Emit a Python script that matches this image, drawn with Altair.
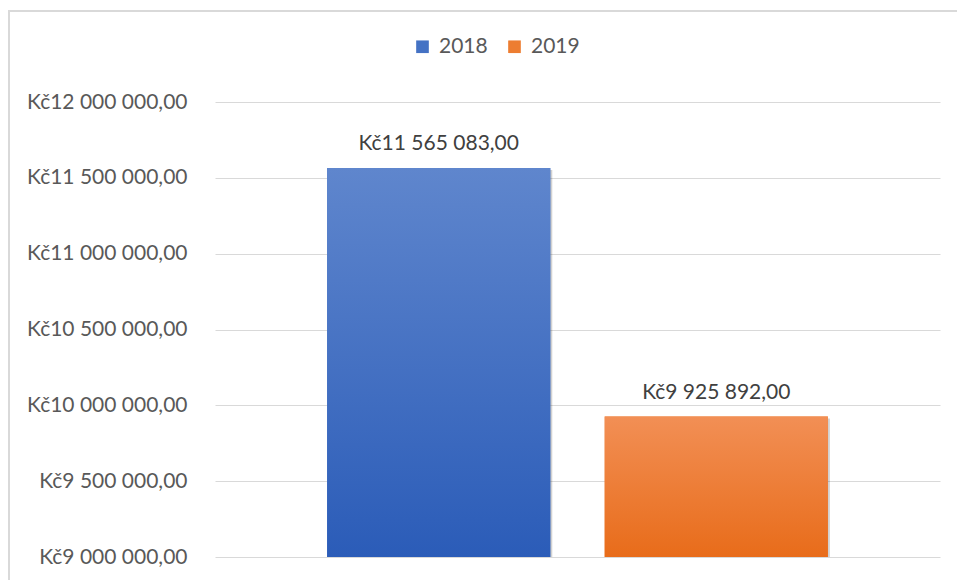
import altair as alt
import pandas as pd

years = ["2018", "2019"]
values = [11565083, 9925892]
legend_colors = ["#4472C4", "#ED7D31"]
grad_top = ["#5F86CD", "#F28F55"]
grad_bottom = ["#2B5CB8", "#E86C1A"]
y_ticks = [9000000, 9500000, 10000000, 10500000, 11000000, 11500000, 12000000]

df = pd.DataFrame({"year": years, "value": values})

FONT = "Lato"

x_enc = alt.X("year:N", axis=None,
              scale=alt.Scale(domain=years, paddingInner=0.196, paddingOuter=0.404))
y_scale = alt.Scale(domain=[y_ticks[0], y_ticks[-1]], zero=False, nice=False)
y_enc = alt.Y("value:Q", scale=y_scale, title=None,
              axis=alt.Axis(values=y_ticks, format="$,.2f", domain=False, ticks=False,
                            labelPadding=28, labelFont=FONT, labelFontSize=21,
                            labelColor="#595959", gridColor="#D9D9D9", gridWidth=1,
                            grid=True))

base = alt.Chart(df)

legend_bars = base.mark_bar().encode(
    x=x_enc,
    y=y_enc,
    y2=alt.datum(y_ticks[0]),
    color=alt.Color("year:N", scale=alt.Scale(domain=years, range=legend_colors),
                    legend=alt.Legend(title=None, orient="none", legendX=197, legendY=-66,
                                      direction="horizontal", symbolType="square",
                                      symbolSize=160, symbolStrokeWidth=0,
                                      labelFont=FONT, labelFontSize=21,
                                      labelColor="#595959", columnPadding=16,
                                      labelOffset=6)),
)

shadow = base.mark_bar(xOffset=2, yOffset=2, color="#000000", opacity=0.18).encode(
    x=x_enc, y=alt.Y("value:Q", scale=y_scale), y2=alt.datum(y_ticks[0]),
)

layers = [shadow, legend_bars]
for i, yr in enumerate(years):
    grad = alt.Gradient(gradient="linear",
                        stops=[alt.GradientStop(color=grad_top[i], offset=0),
                               alt.GradientStop(color=grad_bottom[i], offset=1)],
                        x1=0, x2=0, y1=0, y2=1)
    layers.append(
        base.transform_filter(alt.datum.year == yr).mark_bar(color=grad).encode(
            x=x_enc, y=alt.Y("value:Q", scale=y_scale), y2=alt.datum(y_ticks[0]),
        )
    )

labels = base.mark_text(baseline="bottom", dy=-14, font=FONT, fontSize=21,
                        color="#404040").encode(
    x=x_enc, y=alt.Y("value:Q", scale=y_scale),
    text=alt.Text("value:Q", format="$,.2f"),
)
layers.append(labels)

border_left = alt.Chart(df).mark_rule(color="#D9D9D9", strokeWidth=2).encode(
    x=alt.value(-206), y=alt.value(-91), y2=alt.value(500))
border_top = alt.Chart(df).mark_rule(color="#D9D9D9", strokeWidth=2).encode(
    x=alt.value(-207), x2=alt.value(760), y=alt.value(-91))
layers += [border_left, border_top]

chart = alt.layer(*layers).properties(
    width=725, height=455,
    autosize=alt.AutoSizeParams(type="none"),
    padding={"left": 215, "top": 102, "right": 17, "bottom": 23},
).configure(
    locale={"number": {"decimal": ",", "thousands": " ", "grouping": [3],
                       "currency": ["Kč", ""]}},
    background="white",
    view={"stroke": None},
)

chart.save("out.html", embed_options={"renderer": "svg", "actions": False})
